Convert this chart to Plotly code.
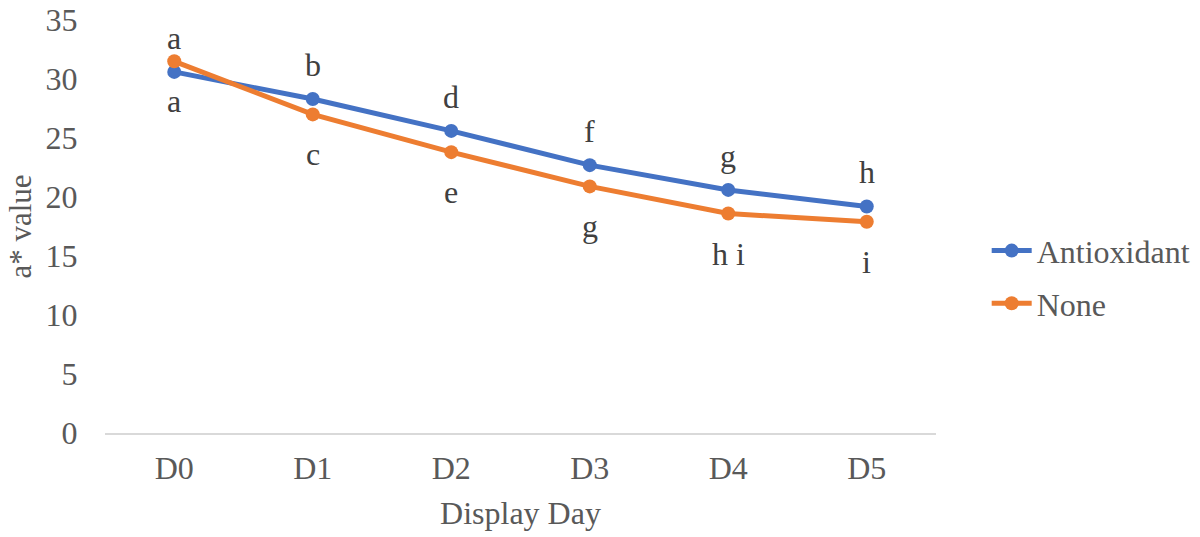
import plotly.graph_objects as go

days = ["D0", "D1", "D2", "D3", "D4", "D5"]
antioxidant = [30.6, 28.3, 25.6, 22.7, 20.6, 19.2]
none_vals = [31.5, 27.0, 23.8, 20.9, 18.6, 17.9]
antioxidant_letters = ["a", "b", "d", "f", "g", "h"]
none_letters = ["a", "c", "e", "g", "h i", "i"]
y_ticks = [0, 5, 10, 15, 20, 25, 30, 35]

BLUE = "#4472C4"
ORANGE = "#ED7D31"
TXT = "#595959"
FONT = "Liberation Serif"
FS = 32

fig = go.Figure()
fig.add_trace(go.Scatter(x=days, y=antioxidant, name="Antioxidant", mode="lines+markers",
                         legendgroup="g1",
                         line=dict(color=BLUE, width=5), marker=dict(size=14, color=BLUE)))
fig.add_trace(go.Scatter(x=days, y=none_vals, name="None", mode="lines+markers",
                         legendgroup="g2",
                         line=dict(color=ORANGE, width=5), marker=dict(size=14, color=ORANGE)))

annotations = []
for i, d in enumerate(days):
    a_above = antioxidant[i] >= none_vals[i]
    for val, lab, above in ((antioxidant[i], antioxidant_letters[i], a_above),
                            (none_vals[i], none_letters[i], not a_above)):
        if above:
            shift = 23 if i == 0 else 34
        else:
            shift = -29 if i == 0 else -40
        annotations.append(dict(x=d, y=val, xref="x", yref="y", text=lab, showarrow=False,
                                yshift=shift, font=dict(family=FONT, size=FS, color="#404040")))

fig.update_layout(
    width=1200, height=537,
    margin=dict(l=105, r=264, t=20, b=104, autoexpand=False),
    plot_bgcolor="white", paper_bgcolor="white",
    font=dict(family=FONT, size=FS, color=TXT),
    showlegend=True,
    legend=dict(x=1.061, y=0.377, xanchor="left", yanchor="middle",
                font=dict(family=FONT, size=FS, color=TXT),
                itemwidth=40, tracegroupgap=8, bgcolor="rgba(0,0,0,0)"),
    annotations=annotations,
    xaxis=dict(
        type="category", range=[-0.5, 5.5], showgrid=False, showline=True, automargin=False,
        linecolor="#d9d9d9", linewidth=2, ticks="outside", ticklen=6, tickcolor="white",
        tickfont=dict(size=FS, color=TXT),
        title=dict(text="Display Day", font=dict(size=FS, color=TXT), standoff=16),
    ),
    yaxis=dict(
        range=[0, 35], tickvals=y_ticks, showgrid=False, zeroline=False, showline=False,
        automargin=False, ticklabeloverflow="allow",
        ticks="outside", ticklen=20, tickcolor="white",
        tickfont=dict(size=FS, color=TXT),
        title=dict(text="a* value", font=dict(size=31, color=TXT), standoff=4),
    ),
)

fig.write_html("out.html", config={"displayModeBar": False},
               post_script="document.body.style.margin='0';")
